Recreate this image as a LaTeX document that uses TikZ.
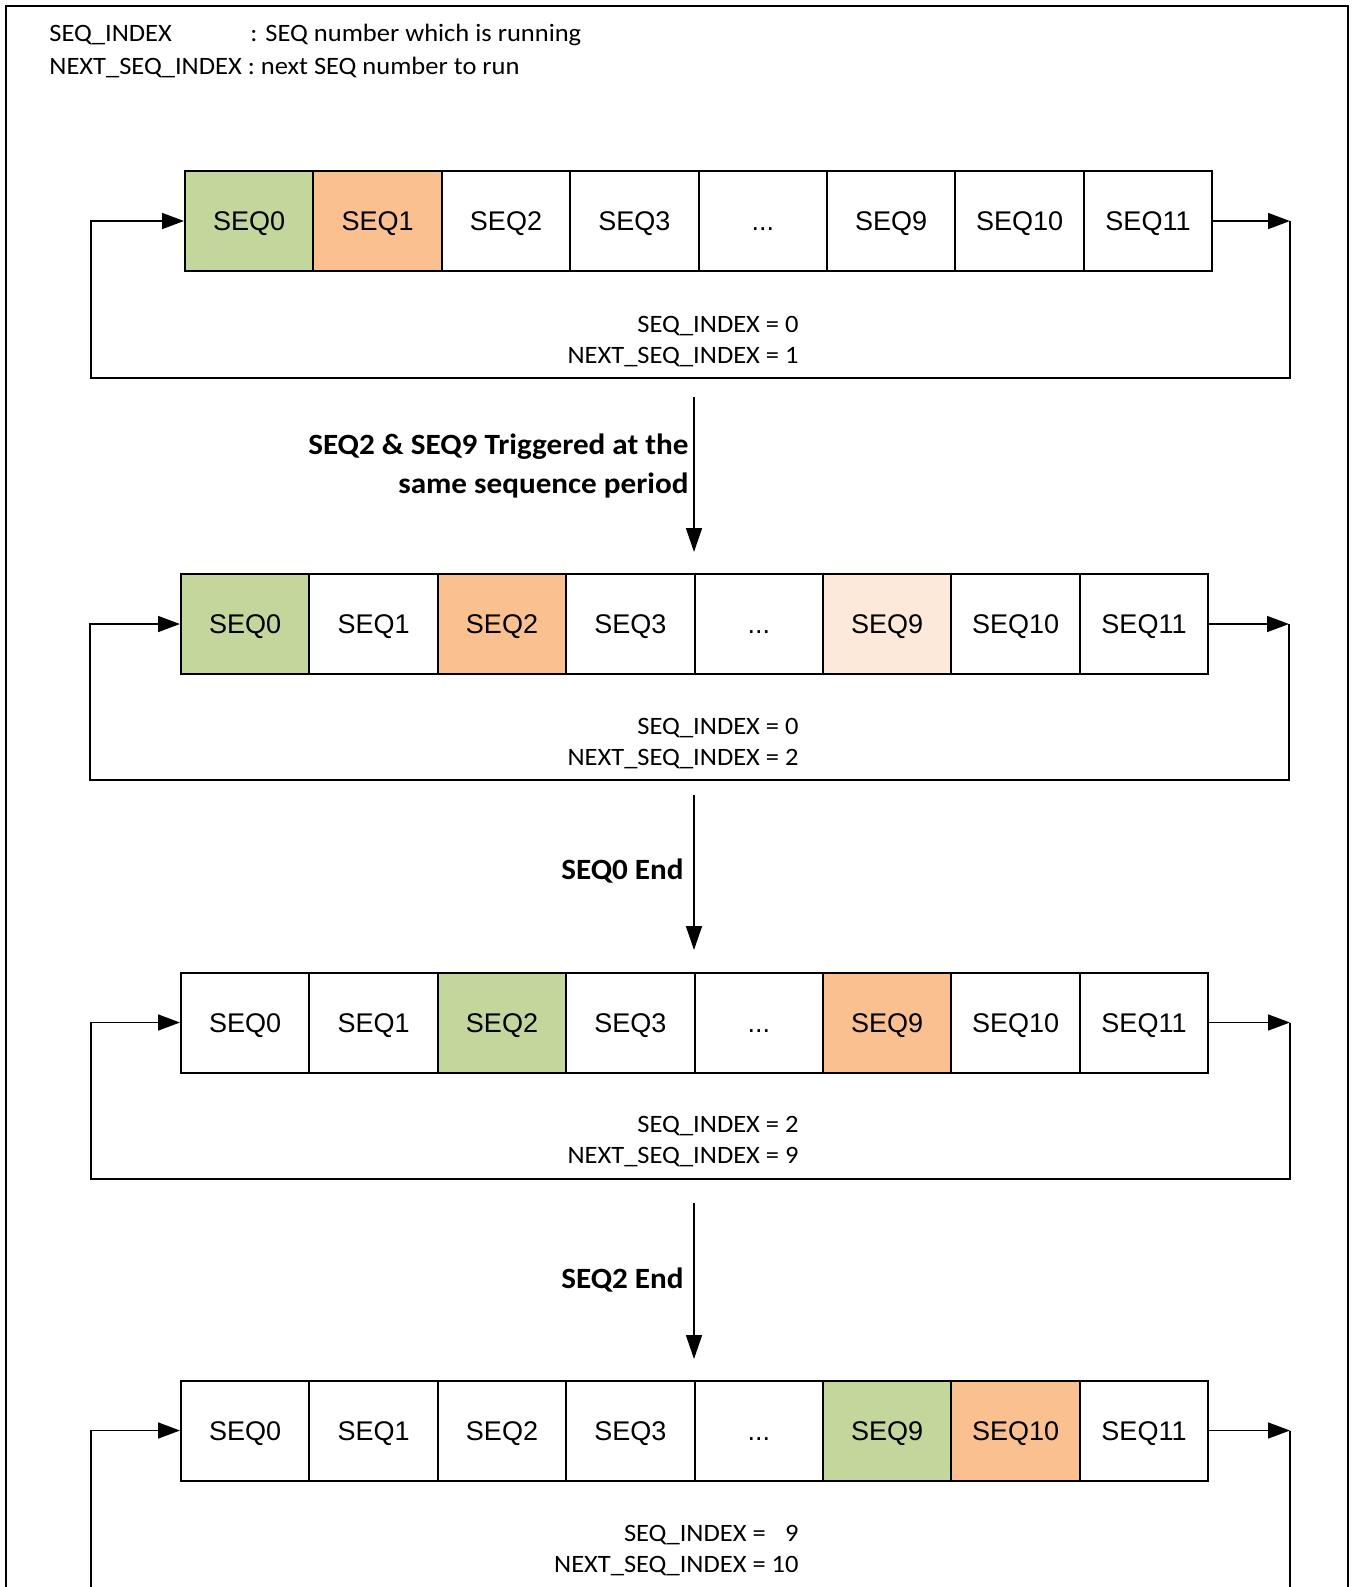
\documentclass[tikz,border=0pt]{standalone}
\usepackage{fontspec}
\setmainfont[FakeStretch=1.06]{Carlito}
\newfontfamily\cellfont{Liberation Sans}
\usepackage{tikz}
\usetikzlibrary{arrows.meta}
\definecolor{seqrun}{RGB}{195,214,155}
\definecolor{seqnext}{RGB}{250,192,144}
\definecolor{seqwait}{RGB}{253,233,217}
\newcommand\seqdots{...}

\tikzset{
  cell/.style={draw, line width=1pt, minimum width=64.2pt, minimum height=50pt,
    inner sep=0pt, text height=9.7pt, text depth=0pt, font=\cellfont\fontsize{13.5}{16}\selectfont},
  idle/.style={fill=white},
  run/.style={fill=seqrun},
  nextrun/.style={fill=seqnext},
  waiting/.style={fill=seqwait},
  loopline/.style={line width=0.8pt},
  flow/.style={loopline, -{Triangle[length=11pt,width=8pt]}},
  trigger/.style={line width=0.8pt, -{Triangle[length=12pt,width=8pt]}},
  idxtext/.style={font=\fontsize{12.5}{15.5}\selectfont, align=right, anchor=east, inner sep=0pt},
  eventtext/.style={font=\bfseries\fontsize{14.7}{19.5}\selectfont, align=right, anchor=east, inner sep=0pt}
}

\begin{document}
\begin{tikzpicture}[x=0.5pt, y=-0.5pt]
    \useasboundingbox (0,0) rectangle (1355,1587);

    % Outer frame (open at the bottom)
    \draw[line width=1pt] (6,1587) -- (6,6) -- (1348,6) -- (1348,1587);

    % Legend
    \node[anchor=west, align=left, inner sep=0pt, font=\fontsize{12.5}{16.2}\selectfont] (legend) at (49,51)
        {\makebox[100.5pt][l]{SEQ\_INDEX}: SEQ number which is running\\NEXT\_SEQ\_INDEX : next SEQ number to run};

    % Row 1: SEQ0 running, SEQ1 next
    \foreach \i/\lab/\st in {0/SEQ0/run, 1/SEQ1/nextrun, 2/SEQ2/idle, 3/SEQ3/idle,
                             4/\seqdots/idle, 5/SEQ9/idle, 6/SEQ10/idle, 7/SEQ11/idle}
        \node[cell, \st] (r1s\i) at ({249.2+128.4*\i}, 221) {\lab};
    \coordinate (r1out) at (1290,221);
    \coordinate (r1low) at (91,378);
    \draw[flow] (r1s7.east) -- (r1out);
    \draw[flow] (r1out) |- (r1low) |- (r1s0.west);
    \node[idxtext] (idx1) at (799,342) {SEQ\_INDEX = 0\\NEXT\_SEQ\_INDEX = 1};

    % SEQ2 & SEQ9 triggered
    \coordinate (e1top) at (694,397);
    \coordinate (e1bot) at (694,552);
    \draw[trigger] (e1top) -- (e1bot);
    \node[eventtext] (ev1) at (689,466) {SEQ2 \& SEQ9 Triggered at the\\same sequence period};

    % Row 2: SEQ0 running, SEQ2 next, SEQ9 waiting
    \foreach \i/\lab/\st in {0/SEQ0/run, 1/SEQ1/idle, 2/SEQ2/nextrun, 3/SEQ3/idle,
                             4/\seqdots/idle, 5/SEQ9/waiting, 6/SEQ10/idle, 7/SEQ11/idle}
        \node[cell, \st] (r2s\i) at ({245.2+128.4*\i}, 624) {\lab};
    \coordinate (r2out) at (1289,624);
    \coordinate (r2low) at (90,780);
    \draw[flow] (r2s7.east) -- (r2out);
    \draw[flow] (r2out) |- (r2low) |- (r2s0.west);
    \node[idxtext] (idx2) at (799,743.5) {SEQ\_INDEX = 0\\NEXT\_SEQ\_INDEX = 2};

    % SEQ0 end
    \coordinate (e2top) at (694,795);
    \coordinate (e2bot) at (694,950);
    \draw[trigger] (e2top) -- (e2bot);
    \node[eventtext] (ev2) at (684,871) {SEQ0 End};

    % Row 3: SEQ2 running, SEQ9 next
    \foreach \i/\lab/\st in {0/SEQ0/idle, 1/SEQ1/idle, 2/SEQ2/run, 3/SEQ3/idle,
                             4/\seqdots/idle, 5/SEQ9/nextrun, 6/SEQ10/idle, 7/SEQ11/idle}
        \node[cell, \st] (r3s\i) at ({245.2+128.4*\i}, 1022.5) {\lab};
    \coordinate (r3out) at (1290,1022.5);
    \coordinate (r3low) at (91,1179);
    \draw[flow] (r3s7.east) -- (r3out);
    \draw[flow] (r3out) |- (r3low) |- (r3s0.west);
    \node[idxtext] (idx3) at (799,1142) {SEQ\_INDEX = 2\\NEXT\_SEQ\_INDEX = 9};

    % SEQ2 end
    \coordinate (e3top) at (694,1203);
    \coordinate (e3bot) at (694,1359);
    \draw[trigger] (e3top) -- (e3bot);
    \node[eventtext] (ev3) at (684,1280) {SEQ2 End};

    % Row 4: SEQ9 running, SEQ10 next (loop runs off the page)
    \foreach \i/\lab/\st in {0/SEQ0/idle, 1/SEQ1/idle, 2/SEQ2/idle, 3/SEQ3/idle,
                             4/\seqdots/idle, 5/SEQ9/run, 6/SEQ10/nextrun, 7/SEQ11/idle}
        \node[cell, \st] (r4s\i) at ({245.2+128.4*\i}, 1430.5) {\lab};
    \coordinate (r4out) at (1290,1430.5);
    \coordinate (r4end) at (1290,1587);
    \coordinate (r4low) at (91,1587);
    \draw[flow] (r4s7.east) -- (r4out);
    \draw[loopline] (r4out) -- (r4end);
    \draw[flow] (r4low) |- (r4s0.west);
    \node[idxtext] (idx4) at (799,1550.5) {SEQ\_INDEX = \hphantom{1}9\\NEXT\_SEQ\_INDEX = 10};
\end{tikzpicture}
\end{document}
